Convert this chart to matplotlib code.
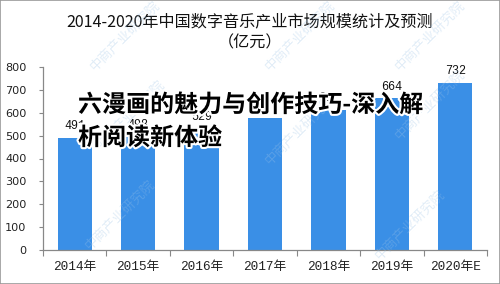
import matplotlib
matplotlib.use("Agg")
import matplotlib.pyplot as plt
import matplotlib.patheffects as pe
from matplotlib.patches import Rectangle

plt.rcParams['font.family'] = ['Noto Sans CJK SC', 'DejaVu Sans']

categories = ['2014年', '2015年', '2016年', '2017年', '2018年', '2019年', '2020年E']
values = [491, 498, 529, 576, 612, 664, 732]
labels = ['491', '498', '529', '', '612', '664', '732']
yticks = [0, 100, 200, 300, 400, 500, 600, 700, 800]

W, H = 500, 284
fig = plt.figure(figsize=(5.0, 2.84), dpi=100)
renderer = fig.canvas.get_renderer()

def fx(x):
    return x / W

def fy(y):
    return 1 - y / H

def fit(t, target):
    for _ in range(3):
        w = t.get_window_extent(renderer).width
        if w > 0:
            t.set_fontsize(t.get_fontsize() * target / w)

mono = ['Liberation Mono', 'Noto Sans CJK SC']

# plot area: x 43..487, y 67..250
ax = fig.add_axes([fx(43), fy(250), (487 - 43) / W, (250 - 67) / H])
xs = list(range(len(categories)))
ax.bar(xs, values, width=0.54, color='#3a8fe6', zorder=2)
ax.set_xlim(-0.5, len(categories) - 0.5)
ax.set_ylim(0, 800)
ax.set_yticks(yticks)
ax.set_yticklabels([str(v) for v in yticks], fontsize=8.5, family='DejaVu Sans', color='#222222')
ax.set_xticks([i - 0.5 for i in range(len(categories) + 1)])
ax.set_xticklabels([])
ax.set_xticks(xs, minor=True)
ax.set_xticklabels(categories, minor=True, fontsize=8.5, color='#222222', family=mono)
ax.tick_params(axis='x', which='minor', length=0, pad=8)
ax.tick_params(axis='x', which='major', length=4, color='#888888', direction='out')
ax.tick_params(axis='y', length=3, color='#888888', direction='out', pad=9)
for s in ['top', 'right']:
    ax.spines[s].set_visible(False)
for s in ['left', 'bottom']:
    ax.spines[s].set_color('#888888')
    ax.spines[s].set_linewidth(0.9)

# fit tick label sizes
fig.canvas.draw()
xl = ax.get_xticklabels(minor=True)
w0 = xl[0].get_window_extent(renderer).width
xfs = 8.5 * 43 / w0 if w0 > 0 else 8.5
for t in xl:
    t.set_fontsize(xfs)
yl = ax.get_yticklabels()
w1 = yl[-1].get_window_extent(renderer).width
yfs = 8.5 * 21 / w1 if w1 > 0 else 8.5
for t in yl:
    t.set_fontsize(yfs)

vals_txt = []
for x, v, lab in zip(xs, values, labels):
    if lab:
        vals_txt.append(ax.annotate(lab, (x, v), xytext=(0, 4), textcoords='offset points',
                                    ha='center', va='bottom', fontsize=8.5, family=mono,
                                    color='#111111'))
fig.canvas.draw()
wv = vals_txt[-1].get_window_extent(renderer).width
vfs = 8.5 * 21 / wv if wv > 0 else 8.5
for t in vals_txt:
    t.set_fontsize(vfs)

# watermarks
wm_positions = [(125, 36), (300, 36), (430, 36), (120, 215), (410, 225), (430, 105), (130, 115), (300, 130)]
for (px, py) in wm_positions:
    fig.text(fx(px), fy(py), '中商产业研究院', fontsize=9.5, rotation=45, color='#9cc3e6',
             alpha=0.3, ha='center', va='center', zorder=5)

# title
title = fig.text(0.5, fy(22), '2014-2020年中国数字音乐产业市场规模统计及预测', ha='center', va='center',
                 fontsize=11, color='#111111')
fit(title, 365)
sub = fig.text(0.5, fy(43), '（亿元）', ha='center', va='center', fontsize=title.get_fontsize(),
               color='#111111')

# overlay text
stroke = [pe.withStroke(linewidth=3, foreground='white')]
o1 = fig.text(fx(78), fy(105), '六漫画的魅力与创作技巧-深入解', ha='left', va='center',
              fontsize=17, fontweight='bold', color='black', path_effects=stroke, zorder=10)
fit(o1, 345)
o2 = fig.text(fx(78), fy(138), '析阅读新体验', ha='left', va='center',
              fontsize=o1.get_fontsize(), fontweight='bold', color='black',
              path_effects=stroke, zorder=10)

# border
fig.patches.append(Rectangle((0, 0), 1, 1, transform=fig.transFigure, fill=False,
                             edgecolor='#999999', linewidth=1.2))

fig.savefig('out.png', dpi=100)
